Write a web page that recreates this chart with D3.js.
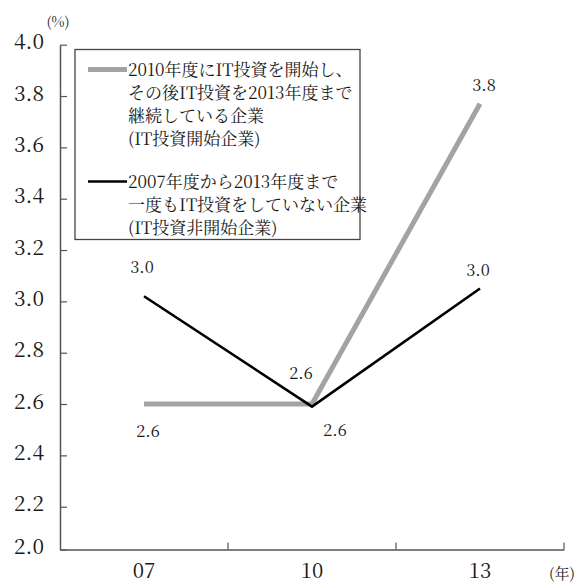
<!DOCTYPE html>
<html>
<head>
<meta charset="utf-8">
<script src="https://cdn.jsdelivr.net/npm/d3@7"></script>
<style>
  body { margin: 0; background: #fff; }
</style>
</head>
<body>
<div class="board"></div>
<script>
var width = 585,
    height = 585

// data
const years = ["07", "10", "13"]
const startSeries = [2.6, 2.6, 3.77]     // IT投資開始企業
const noneSeries = [3.02, 2.59, 3.05]    // IT投資非開始企業
const startLabels = ["2.6", "2.6", "3.8"]
const noneLabels = ["3.0", "2.6", "3.0"]
const yTicks = [2.0, 2.2, 2.4, 2.6, 2.8, 3.0, 3.2, 3.4, 3.6, 3.8, 4.0]
const legendStart = ["2010年度にIT投資を開始し、", "その後IT投資を2013年度まで", "継続している企業", "(IT投資開始企業)"]
const legendNone = ["2007年度から2013年度まで", "一度もIT投資をしていない企業", "(IT投資非開始企業)"]

GRAY = "#a3a3a3"
AXIS_COLOR = "#555"
TEXT_COLOR = "#1a1a1a"
NUM_FONT = "Noto Serif CJK JP"
JP_FONT = "Noto Serif CJK JP"

var svg = d3.select(".board")
    .append("svg")
    .attr("width", width)
    .attr("height", height)

// the original axis squeezes the last step (2.0 - 2.2)
let y = d3.scaleLinear()
    .domain([2.0, 2.2, 4.0])
    .range([549.5, 506.7, 44.7])

let x = d3.scaleBand()
    .domain(years)
    .range([60, 564])

// y axis
let yAxis = svg.append("g")
    .attr("transform", "translate(60,0)")
    .call(d3.axisLeft(y)
        .tickValues(yTicks)
        .tickFormat(d3.format(".1f"))
        .tickSizeInner(-7)
        .tickSizeOuter(0)
        .tickPadding(16))

yAxis.attr("font-family", NUM_FONT).attr("font-size", 21)
yAxis.select(".domain").attr("stroke", AXIS_COLOR).attr("stroke-width", 1.5)
yAxis.selectAll(".tick line").attr("stroke", AXIS_COLOR).attr("stroke-width", 1.2)
yAxis.selectAll(".tick text")
    .attr("dy", "0.2em")
    .attr("fill", TEXT_COLOR)

// x axis
let xAxis = svg.append("g")
    .attr("transform", `translate(0,${y(2.0)})`)
    .call(d3.axisBottom(x).tickSize(0).tickPadding(14))

xAxis.attr("font-family", NUM_FONT).attr("font-size", 20.5)
xAxis.select(".domain").attr("stroke", AXIS_COLOR).attr("stroke-width", 1.5)
xAxis.selectAll(".tick text").attr("fill", TEXT_COLOR)

let bounds = years.map(d => x(d)).concat([x.range()[1]])
svg.selectAll(".xTick")
    .data(bounds.slice(1))
    .enter()
    .append("line")
    .classed("xTick", true)
    .attr("x1", d => d)
    .attr("x2", d => d)
    .attr("y1", y(2.0))
    .attr("y2", y(2.0) - 7)
    .attr("stroke", AXIS_COLOR)
    .attr("stroke-width", 1.2)

// unit labels
svg.append("text")
    .attr("x", 58)
    .attr("y", 27)
    .attr("text-anchor", "middle")
    .attr("font-family", JP_FONT)
    .attr("font-size", 14)
    .attr("fill", TEXT_COLOR)
    .text("(%)")

svg.append("text")
    .attr("x", 562)
    .attr("y", 579)
    .attr("text-anchor", "middle")
    .attr("font-family", JP_FONT)
    .attr("font-size", 15)
    .attr("fill", TEXT_COLOR)
    .text("(年)")

// lines
let line = d3.line()
    .x((d, i) => x(years[i]) + x.bandwidth() / 2)
    .y(d => y(d))

svg.append("path")
    .datum(startSeries)
    .attr("fill", "none")
    .attr("stroke", GRAY)
    .attr("stroke-width", 5)
    .attr("d", line)

svg.append("path")
    .datum(noneSeries)
    .attr("fill", "none")
    .attr("stroke", "#000")
    .attr("stroke-width", 2.6)
    .attr("d", line)

// value labels (offsets from the point, in px)
const startOffsets = [[4, 33], [-11, -25], [4, -13]]
const noneOffsets = [[-2, -23], [23, 29], [-2, -13]]

function addLabels(values, labels, offsets) {
    svg.selectAll(null)
        .data(values)
        .enter()
        .append("text")
        .attr("x", (d, i) => x(years[i]) + x.bandwidth() / 2 + offsets[i][0])
        .attr("y", (d, i) => y(d) + offsets[i][1])
        .attr("text-anchor", "middle")
        .attr("font-family", NUM_FONT)
        .attr("font-size", 16.5)
        .attr("fill", TEXT_COLOR)
        .text((d, i) => labels[i])
}
addLabels(startSeries, startLabels, startOffsets)
addLabels(noneSeries, noneLabels, noneOffsets)

// legend
let legend = svg.append("g")

legend.append("rect")
    .attr("x", 75)
    .attr("y", 49.5)
    .attr("width", 285)
    .attr("height", 190)
    .attr("fill", "#fff")
    .attr("stroke", "#444")
    .attr("stroke-width", 1.3)

function legendEntry(lines, color, lw, top) {
    legend.append("line")
        .attr("x1", 88)
        .attr("x2", 127)
        .attr("y1", top)
        .attr("y2", top)
        .attr("stroke", color)
        .attr("stroke-width", lw)

    legend.selectAll(null)
        .data(lines)
        .enter()
        .append("text")
        .attr("x", 128)
        .attr("y", (d, i) => top + 6 + i * 23.3)
        .attr("font-family", JP_FONT)
        .attr("font-size", 17)
        .attr("fill", TEXT_COLOR)
        .text(d => d)
}
legendEntry(legendStart, GRAY, 5, 69.5)
legendEntry(legendNone, "#000", 2.6, 181.5)
</script>
</body>
</html>
